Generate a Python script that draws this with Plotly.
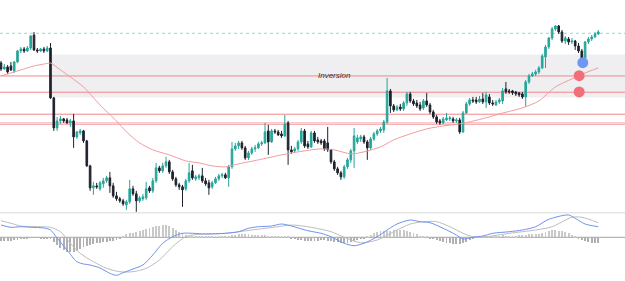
import plotly.graph_objects as go

# ---------------- data ----------------
idx = list(range(182))

opens = [187,181,183,184,179,188,199,201,199,202,
         215,200,199,201,199,202,152,122,129,131,
         130,127,129,113,117,119,109,84,62,64,
         61,66,69,72,64,54,51,49,45,48,
         61,56,49,51,52,62,59,69,82,79,
         84,88,78,71,65,63,61,69,79,71,
         72,74,69,67,63,67,71,74,75,72,
         83,101,104,107,102,92,97,101,102,106,
         107,119,108,119,118,116,114,127,100,99,
         101,108,119,106,103,117,110,109,109,107,
         100,88,81,77,73,83,90,99,108,111,
         113,108,102,111,116,119,120,128,159,144,
         140,143,141,147,156,149,147,145,142,149,
         145,138,133,129,127,130,131,131,129,130,
         118,137,146,150,150,148,151,148,153,147,
         145,148,149,161,159,159,158,157,156,153,
         168,174,176,178,182,193,203,212,221,224,
         218,209,211,208,209,204,199,192,208,211,
         213,216]

highs = [189,186,185,188,189,200,203,203,204,215,
         218,202,202,203,204,207,153,133,134,132,
         132,131,136,119,121,120,110,85,68,67,
         69,72,74,78,67,58,53,51,50,70,
         64,59,54,56,68,64,72,87,84,87,
         93,90,80,73,67,65,71,87,85,75,
         76,82,72,70,69,73,76,77,77,85,
         108,107,109,109,104,99,103,105,108,109,
         127,125,121,121,120,119,135,129,104,103,
         110,122,121,109,119,119,113,111,111,123,
         101,90,83,79,85,92,101,122,115,115,
         115,110,113,118,121,123,130,172,161,146,
         145,146,149,158,158,151,150,148,151,157,
         147,140,135,131,133,137,134,133,132,132,
         139,148,152,153,153,154,157,158,156,150,
         150,152,162,168,161,160,159,158,158,170,
         176,178,180,184,196,205,213,223,225,225,
         220,214,213,212,210,207,201,209,213,215,
         218,220]

lows = [179,180,176,179,177,187,197,197,198,200,
        199,197,198,197,198,151,119,119,126,127,
        126,123,102,111,115,107,83,59,55,61,
        59,62,67,57,52,49,47,44,40,46,
        54,38,47,49,50,57,57,67,77,77,
        82,76,69,63,60,43,59,67,70,69,
        70,67,64,55,61,66,69,72,71,63,
        81,99,101,100,90,90,95,98,101,104,
        106,95,107,116,114,112,113,85,96,97,
        99,106,102,101,102,107,106,105,99,98,
        86,79,75,70,71,81,87,82,106,108,
        106,90,100,109,114,117,117,126,137,138,
        139,139,139,144,147,144,142,139,140,143,
        136,131,126,125,126,129,129,127,127,116,
        117,136,144,147,146,147,146,142,145,144,
        144,146,146,156,156,155,154,153,151,143,
        166,173,174,176,181,182,201,210,219,216,
        207,206,205,206,200,197,190,191,206,209,
        212,215]

closes = [181,183,178,180,188,199,201,199,202,214,
          200,199,201,199,202,152,122,129,131,129,
          127,129,113,118,119,109,84,62,64,63,
          67,69,72,64,54,51,49,46,48,61,
          56,49,52,53,61,59,69,82,79,84,
          88,78,71,65,63,60,69,77,72,73,
          74,69,66,62,67,71,74,75,72,83,
          101,104,107,102,92,97,101,102,106,107,
          118,108,119,118,115,114,126,100,98,101,
          108,119,104,103,117,109,108,107,101,100,
          88,81,77,73,83,90,99,114,112,113,
          108,102,111,116,119,121,128,159,144,140,
          143,141,147,156,149,146,144,141,149,145,
          138,133,128,127,131,132,132,129,130,118,
          137,146,150,149,148,151,148,155,147,146,
          148,150,159,158,158,157,156,155,153,168,
          174,176,178,182,194,203,212,221,224,218,
          209,212,208,209,204,199,192,208,211,213,
          216,218]

ma_idx = [0,5,10,14,15,18,21,25,30,35,38,42,46,51,56,60,64,68,72,78,85,90,97,101,
          106,110,115,119,124,129,134,139,142,148,151,158,163,168,173,177,181]
ma_vals = [174,179,184,186.5,187,180,173,163,145,129,118,107,100,95,89,87,84,83,86,90,95,98,101,100,
           96,98,103,110,116,121,124,126,128,133,136,142,149,163,171,177,182]

macd_idx = [0,3,6,9,13,15,17,20,23,25,27,30,33,35,37,40,43,46,49,52,
            55,58,62,68,72,75,78,82,85,88,93,97,100,104,107,110,114,117,120,124,
            127,130,134,138,140,143,146,149,154,158,162,166,172,174,177,181]
macd_vals = [12.3,10,10.6,10,9.3,7.3,-0.7,-12.7,-24.4,-26.7,-27.7,-30.7,-36,-38,-35.4,-31.7,-27.7,-17.7,-6,0.6,
             4,4,3.3,4,5.6,9,10.6,11.3,13.3,11.3,6.6,4,0.6,-6,-8.4,-6,0.6,7.3,13.3,17.3,
             15.6,14.6,9,2.3,-1.7,0,1.3,4,5.6,7.3,10.6,18,22.3,19,13.3,10.6]

signal_idx = [0,3,6,12,15,18,21,24,28,32,36,40,44,48,52,56,60,68,76,84,
              88,94,100,104,109,114,119,124,128,132,136,140,143,147,154,162,167,173,176,181]
signal_vals = [16.6,14,11.3,10.6,10,5.6,-6,-16,-24.4,-31,-34.4,-34.4,-31,-22.7,-9.4,0.6,3,4,7.3,10.6,
               12.3,10,5.6,0,-5.4,-2.7,5.6,13.3,15.6,15.6,10.6,4,0.6,0.6,4,7.3,10.6,20,20,14.6]

hist_vals = [-4,-4,-4,-4,-3,-3,-2,-1,-1,-0.5,
             -0.5,-0.5,-1,-1,-2,-2,-5,-8,-11,-13,
             -15,-15,-15,-14,-12,-10,-9,-8,-7,-6,
             -6,-5,-5,-4,-4,-3,-1,1,3,4,
             4,5,6,7,8,9,10,11,11,12,
             12,11,9,7,5,4,2,1,0.5,0.5,
             0.5,0.5,0.5,0.5,0.5,0.5,0.5,0.5,1,1.5,
             2,2.5,3,3,3,3,2.5,2.5,2,2,
             2,1.5,1.5,1.5,1.5,1,1,0.5,-1,-2,
             -3,-3,-4,-4,-4,-4,-4,-3,-3,-4,
             -4,-5,-5,-6,-6,-6,-5,-4,-3,-2,
             -1,1,2,4,5,6,6,6,6,7,
             7,7,7,6,5,4,3,1,0.5,0.5,
             -1,-2,-3,-4,-5,-6,-6,-7,-7,-7,
             -6,-5,-3,-1,0.5,0.5,1,1,1,1.5,
             1.5,1.5,2,1.5,1.5,1.5,1.5,2,2,2.5,
             3,3,3,3.5,4,5,6,7,7,6,
             6,5,4,2,0.5,-2,-3,-4,-5,-6,
             -6,-6]

level_lines = [174, 157.7, 135.7, 127, 125.5]
zone_low, zone_high, zone_start = 152.3, 195.5, 15.3
dotted_level = 216.7
label_text = "Inversion"
label_pos = (101.2, 174.6)
blue_pt = ([176.3], [187.3])
red_pts = ([175.2, 175.2], [174.3, 158])

# ---------------- figure ----------------
X_RANGE = [-0.303, 189.09]
GREEN = "#26a69a"
DARK = "#1e222d"

fig = go.Figure()

fig.add_trace(go.Candlestick(
    x=idx, open=opens, high=highs, low=lows, close=closes,
    increasing=dict(line=dict(color=GREEN, width=1), fillcolor=GREEN),
    decreasing=dict(line=dict(color=DARK, width=1), fillcolor=DARK),
    whiskerwidth=0, xaxis="x", yaxis="y", showlegend=False, hoverinfo="skip"))

fig.add_trace(go.Scatter(
    x=ma_idx, y=ma_vals, mode="lines",
    line=dict(color="#f39a9d", width=1, shape="spline", smoothing=0.7),
    xaxis="x", yaxis="y", showlegend=False, hoverinfo="skip"))

fig.add_trace(go.Scatter(
    x=red_pts[0], y=red_pts[1], mode="markers",
    marker=dict(size=11, color="#f26e78", line=dict(width=0)),
    xaxis="x", yaxis="y", showlegend=False, hoverinfo="skip"))
fig.add_trace(go.Scatter(
    x=blue_pt[0], y=blue_pt[1], mode="markers",
    marker=dict(size=11, color="#6e98f4", line=dict(width=0)),
    xaxis="x", yaxis="y", showlegend=False, hoverinfo="skip"))

hist_colors = ["#c9c9c9" if v >= 0 else "#b0b0b0" for v in hist_vals]
fig.add_trace(go.Bar(
    x=idx, y=hist_vals, width=0.28, marker=dict(color=hist_colors, line=dict(width=0)),
    xaxis="x2", yaxis="y2", showlegend=False, hoverinfo="skip"))
fig.add_trace(go.Scatter(
    x=signal_idx, y=signal_vals, mode="lines",
    line=dict(color="#bdbdbd", width=1, shape="spline", smoothing=0.8),
    xaxis="x2", yaxis="y2", showlegend=False, hoverinfo="skip"))
fig.add_trace(go.Scatter(
    x=macd_idx, y=macd_vals, mode="lines",
    line=dict(color="#6f93ee", width=1, shape="spline", smoothing=0.8),
    xaxis="x2", yaxis="y2", showlegend=False, hoverinfo="skip"))

shapes = [
    dict(type="rect", xref="x", yref="y", x0=zone_start, x1=X_RANGE[1],
         y0=zone_low, y1=zone_high, fillcolor="#efeff1", line=dict(width=0), layer="below"),
    dict(type="line", xref="x", yref="y", x0=X_RANGE[0], x1=X_RANGE[1],
         y0=dotted_level, y1=dotted_level,
         line=dict(color="#9bd6cd", width=1, dash="dot"), layer="below"),
    dict(type="line", xref="paper", yref="paper", x0=0, x1=1, y0=0.2431, y1=0.2431,
         line=dict(color="#e6e6e6", width=1.5)),
    dict(type="line", xref="x2", yref="y2", x0=X_RANGE[0], x1=X_RANGE[1], y0=0, y1=0,
         line=dict(color="#a3a3a3", width=1), layer="below"),
]
for i, lv in enumerate(level_lines):
    shapes.append(dict(type="line", xref="x", yref="y", x0=X_RANGE[0], x1=X_RANGE[1],
                       y0=lv, y1=lv,
                       line=dict(color="#f2868b" if i < 3 else "#f6a9ad", width=1),
                       layer="below"))

fig.update_layout(
    width=625, height=281,
    margin=dict(l=0, r=0, t=0, b=0),
    paper_bgcolor="white", plot_bgcolor="white",
    showlegend=False,
    font=dict(family="Liberation Sans, Arial, sans-serif"),
    xaxis=dict(domain=[0, 1], range=X_RANGE, visible=False, rangeslider=dict(visible=False),
               anchor="y"),
    yaxis=dict(domain=[0.2426, 1], range=[37, 250], visible=False, anchor="x"),
    xaxis2=dict(domain=[0, 1], range=X_RANGE, visible=False, anchor="y2", matches="x"),
    yaxis2=dict(domain=[0, 0.2384], range=[-43.7, 23.3], visible=False, anchor="x2"),
    shapes=shapes,
    annotations=[dict(x=label_pos[0], y=label_pos[1], xref="x", yref="y",
                      text="<i>" + label_text + "</i>", showarrow=False,
                      font=dict(size=8, color="#4d2a2c",
                                family="Liberation Sans, Arial, sans-serif"))],
    bargap=0,
)

fig.write_html("out.html")
